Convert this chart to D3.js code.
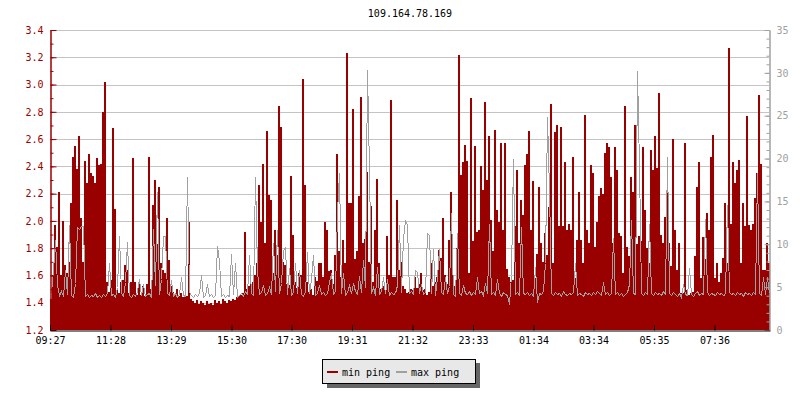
<!DOCTYPE html>
<html><head><meta charset="utf-8">
<script src="https://cdn.jsdelivr.net/npm/d3@7/dist/d3.min.js"></script>
<style>body{margin:0;background:#fff}svg{display:block}</style>
</head><body><svg id="c" width="800" height="400"></svg>
<script>
const chartTitle = "109.164.78.169";
const seriesNames = ["min ping", "max ping"];
// x tick labels and their offsets (minutes after 09:27)
const timeLabels = ["09:27","11:28","13:29","15:30","17:30","19:31","21:32","23:33","01:34","03:34","05:35","07:36"];
const timeOffsets = [0,121,242,363,483,604,725,846,967,1087,1208,1329];
const leftTickLabels = ["1.2","1.4","1.6","1.8","2.0","2.2","2.4","2.6","2.8","3.0","3.2","3.4"];
const rightTickLabels = ["0","5","10","15","20","25","30","35"];
const stepMinutes = 4;
// min ping (left axis), one value per 4 minutes
const minPing = [
1.43,1.60,1.97,1.81,2.21,1.60,2.00,1.68,1.62,1.70,
2.13,2.47,2.55,2.38,2.62,2.02,1.70,2.44,2.28,2.49,
2.35,2.33,2.28,2.46,2.41,2.42,2.80,3.02,1.55,1.48,
1.57,2.68,2.09,1.49,1.47,1.55,1.57,1.68,1.64,1.47,
1.55,2.46,1.55,1.46,1.54,1.46,1.52,1.45,1.54,2.47,
1.50,2.12,2.30,1.83,2.25,1.69,1.64,1.62,2.02,1.71,
1.52,1.48,1.46,1.50,1.45,1.47,1.44,1.46,1.45,1.99,
1.43,1.41,1.40,1.42,1.39,1.41,1.40,1.38,1.41,1.39,
1.40,1.38,1.42,1.40,1.41,1.39,1.43,1.41,1.40,1.42,
1.41,1.43,1.42,1.44,1.45,1.46,1.47,1.92,1.50,1.52,
1.54,1.55,1.60,1.69,2.26,1.99,2.42,1.84,2.66,2.19,
2.15,1.62,1.93,1.75,2.84,2.69,1.70,1.68,1.54,1.53,
2.33,1.90,1.55,1.51,1.62,1.60,3.04,2.26,1.55,1.48,
1.50,1.46,1.59,1.56,1.69,1.69,1.59,1.99,1.93,1.63,
1.64,1.54,1.75,2.49,1.78,1.59,1.86,1.69,3.23,2.13,
2.13,2.82,1.72,1.78,2.18,2.91,1.84,1.87,2.36,1.70,
2.11,1.55,1.93,2.31,1.69,1.50,1.52,1.49,1.89,1.60,
2.89,1.59,1.59,2.15,1.64,1.70,1.52,1.50,1.47,1.48,
1.50,1.49,1.59,1.51,1.54,1.62,1.49,1.50,1.46,1.48,
1.69,1.52,1.55,1.59,1.79,1.73,2.02,1.60,1.54,1.86,
2.21,1.60,1.52,1.80,3.22,2.34,2.43,2.56,2.44,1.62,
2.90,1.85,2.55,1.92,1.93,2.40,2.23,2.87,2.30,2.62,
2.01,1.78,2.67,2.08,1.99,2.57,1.93,2.57,1.65,1.59,
1.55,1.57,1.96,2.37,1.84,2.15,2.04,2.41,2.49,2.66,
1.93,2.29,1.58,1.76,2.25,1.84,1.70,1.91,1.75,2.10,
2.86,1.69,2.65,2.70,1.96,2.69,1.96,2.43,1.93,1.98,
1.93,2.47,1.58,1.86,2.21,1.86,1.69,2.78,1.93,1.84,
2.41,2.35,1.81,1.99,2.18,2.24,2.20,2.50,2.57,2.54,
2.32,1.84,2.54,2.37,1.91,1.89,1.62,2.84,1.81,1.74,
2.32,2.21,2.70,1.83,1.89,1.85,2.54,2.08,1.80,1.69,
2.52,2.37,2.62,2.39,2.94,1.90,1.84,2.03,2.23,1.84,
1.67,2.60,1.93,1.64,1.84,1.47,1.47,2.57,1.49,1.46,
1.47,1.48,1.74,2.25,2.43,1.58,1.88,1.72,2.06,1.93,
2.47,2.63,1.58,1.69,1.55,1.62,1.73,2.13,1.69,3.27,
1.98,2.43,2.28,2.37,2.45,1.69,2.13,1.96,2.77,1.97,
1.93,1.98,2.17,2.35,2.92,2.42,1.64,1.64,1.84,1.69
];
// max ping (right axis)
const maxPing = [
4.3,7.0,10.5,5.2,4.1,4.5,4.0,7.0,4.2,12.3,
4.1,3.9,5.5,12.0,11.8,12.1,12.1,4.0,4.2,3.9,
4.1,4.0,4.3,3.8,4.1,3.9,4.2,4.0,4.3,7.8,
4.1,4.2,3.9,5.0,11.0,4.3,4.0,5.6,10.3,4.1,
3.9,4.2,4.0,4.5,6.0,4.1,5.4,4.0,4.2,4.3,
3.9,11.8,5.2,16.1,4.2,6.0,11.0,11.0,4.3,4.1,
5.8,4.0,4.3,3.9,4.2,6.2,4.1,4.0,17.9,4.4,
4.1,3.9,4.2,4.0,4.3,6.4,3.9,4.1,5.4,4.0,
4.2,3.9,4.1,9.8,8.1,4.0,4.2,3.9,4.1,4.0,
8.9,4.2,7.8,3.9,4.1,4.3,4.0,4.5,4.2,8.7,
4.3,4.1,17.8,7.0,4.2,4.4,5.2,4.1,4.3,5.0,
4.2,10.1,4.5,11.7,4.3,5.5,9.3,9.7,4.2,7.2,
4.1,4.4,7.8,4.3,7.0,4.2,4.0,4.5,9.1,4.3,
6.0,8.7,4.1,4.3,5.3,4.2,4.4,4.1,4.3,5.6,
6.6,4.2,4.5,13.8,18.3,4.3,6.6,4.1,4.4,5.2,
4.3,5.5,4.5,4.2,6.3,4.4,8.2,5.0,30.3,18.7,
4.3,5.0,4.1,7.4,4.2,4.5,6.2,4.3,6.0,4.1,
4.4,4.2,4.3,5.3,12.2,4.4,10.7,12.8,12.2,4.3,
4.5,4.2,7.0,6.8,4.3,5.4,4.2,4.4,11.3,11.1,
4.3,9.4,4.1,6.2,9.4,4.4,4.2,6.2,4.3,5.1,
13.6,4.2,4.0,11.3,4.3,4.1,5.3,4.3,4.2,4.5,
4.1,4.4,4.2,6.2,4.3,4.5,4.1,5.5,4.3,12.4,
4.2,4.4,4.1,6.0,4.3,4.0,4.4,4.2,4.1,3.0,
6.4,19.9,4.2,4.4,4.1,12.0,4.3,4.2,4.4,4.1,
4.3,4.0,7.4,3.3,4.3,4.2,4.5,7.8,24.8,16.3,
4.3,4.1,4.4,4.2,4.3,4.0,4.5,4.2,4.1,4.3,
4.2,4.4,7.8,4.1,4.3,4.2,4.0,4.4,4.2,4.3,
4.1,4.4,4.2,4.5,4.3,4.1,5.6,4.2,4.4,4.1,
4.3,10.7,4.2,4.4,4.1,4.3,4.0,4.2,4.4,5.4,
12.8,4.3,4.2,30.2,19.1,4.3,4.1,4.4,4.2,12.4,
4.3,4.1,4.4,4.2,4.3,4.1,4.5,4.2,20.2,4.3,
4.1,4.4,4.2,4.0,4.3,3.9,5.4,4.2,4.1,7.2,
4.2,4.0,4.3,4.5,4.1,4.3,4.2,13.0,4.4,4.1,
4.3,4.2,4.1,4.4,4.2,4.3,4.1,4.2,14.6,4.4,
4.2,4.3,4.1,4.4,4.2,4.3,4.0,4.4,4.2,4.3,
4.1,4.4,4.2,18.3,4.3,4.1,6.2,4.2,6.2,4.3
];

const RED = "#990000", GRAY = "#a0a0a0", GRID = "#c4c4c4";
const FONT = "'DejaVu Sans Mono', monospace";
const L = 50, R = 770, T = 30, B = 330;
const svg = d3.select("#c");
svg.append("rect").attr("width",800).attr("height",400).attr("fill","#fff");

const total = minPing.length * stepMinutes;
const x = d3.scaleLinear().domain([0, total]).range([L, R]);
const yL = d3.scaleLinear().domain([+leftTickLabels[0], +leftTickLabels[leftTickLabels.length-1]]).range([B, T]);
const yR = d3.scaleLinear().domain([+rightTickLabels[0], +rightTickLabels[rightTickLabels.length-1]]).range([B, T]);

// title
svg.append("text").attr("x", (L+R)/2).attr("y", 17).attr("text-anchor","middle")
  .attr("font-family", FONT).attr("font-size", 10).attr("fill","#000").text(chartTitle);

// grid
svg.append("g").selectAll("line").data(leftTickLabels.slice(1).map(Number)).join("line")
  .attr("x1", L+1).attr("x2", R-1)
  .attr("y1", d => Math.round(yL(d))+0.5).attr("y2", d => Math.round(yL(d))+0.5)
  .attr("stroke", GRID).attr("stroke-width",1);

// min ping bars
svg.append("g").attr("shape-rendering","crispEdges").selectAll("rect").data(minPing).join("rect")
  .attr("x", (d,i) => x(i*stepMinutes))
  .attr("width", (d,i) => x((i+1)*stepMinutes) - x(i*stepMinutes))
  .attr("y", d => Math.round(yL(d)))
  .attr("height", d => B - Math.round(yL(d)))
  .attr("fill", RED);

// max ping line (points at slot centres)
const pts = maxPing.map((v,i) => [(i+0.5)*stepMinutes, v]);
const line = d3.line().x(d => x(d[0]) + 0.5).y(d => Math.round(yR(d[1]))+0.5);
svg.append("path").datum(pts).attr("d", line).attr("fill","none")
  .attr("stroke", GRAY).attr("stroke-width",1).attr("shape-rendering","crispEdges");

// left axis
const minorLeft = d3.range(0, 23).map(k => +leftTickLabels[0] + k*0.1);
const gL = svg.append("g").attr("transform", `translate(${L+0.5},0)`);
gL.append("g").call(d3.axisLeft(yL).tickValues(minorLeft).tickSizeInner(-3).tickSizeOuter(0).tickFormat(""));
gL.append("g").call(d3.axisLeft(yL).tickValues(leftTickLabels.map(Number)).tickSizeInner(-6).tickSizeOuter(0).tickPadding(7).tickFormat((d,i)=>leftTickLabels[i]));
gL.selectAll("path,line").attr("stroke", RED);
gL.selectAll("text").attr("fill", RED).attr("font-family", FONT).attr("font-size", 10);

// right axis
const minorRight = d3.range(0, 36);
const gR = svg.append("g").attr("transform", `translate(${R-0.5},0)`);
gR.append("g").call(d3.axisRight(yR).tickValues(minorRight).tickSizeInner(-3).tickSizeOuter(0).tickFormat(""));
gR.append("g").call(d3.axisRight(yR).tickValues(rightTickLabels.map(Number)).tickSizeInner(-5).tickSizeOuter(0).tickPadding(7).tickFormat((d,i)=>rightTickLabels[i]));
gR.selectAll("path,line").attr("stroke", GRAY);
gR.selectAll("text").attr("fill", GRAY).attr("font-family", FONT).attr("font-size", 10);

// bottom axis
const gB = svg.append("g").attr("transform", `translate(0,${B+0.5})`);
gB.call(d3.axisBottom(x).tickValues(timeOffsets).tickSizeInner(-5).tickSizeOuter(0).tickPadding(6).tickFormat((d,i)=>timeLabels[i]));
gB.select(".domain").attr("stroke","#000");
gB.selectAll("line").attr("stroke","#000");
gB.selectAll("text").attr("fill","#000").attr("font-family", FONT).attr("font-size", 10);

// legend
const lg = svg.append("g").attr("shape-rendering","crispEdges");
lg.append("rect").attr("x",327).attr("y",363).attr("width",153).attr("height",25).attr("fill","#666");
lg.append("rect").attr("x",322.5).attr("y",359.5).attr("width",153).attr("height",24).attr("fill","#e8e8e8").attr("stroke","#000");
const items = [{name: seriesNames[0], color: RED, x: 327}, {name: seriesNames[1], color: GRAY, x: 396}];
items.forEach(it => {
  lg.append("line").attr("x1", it.x).attr("x2", it.x+11).attr("y1",372).attr("y2",372)
    .attr("stroke", it.color).attr("stroke-width",2);
  lg.append("text").attr("x", it.x+15).attr("y",375.5).attr("font-family",FONT).attr("font-size",10)
    .attr("fill","#000").text(it.name);
});
</script></body></html>
